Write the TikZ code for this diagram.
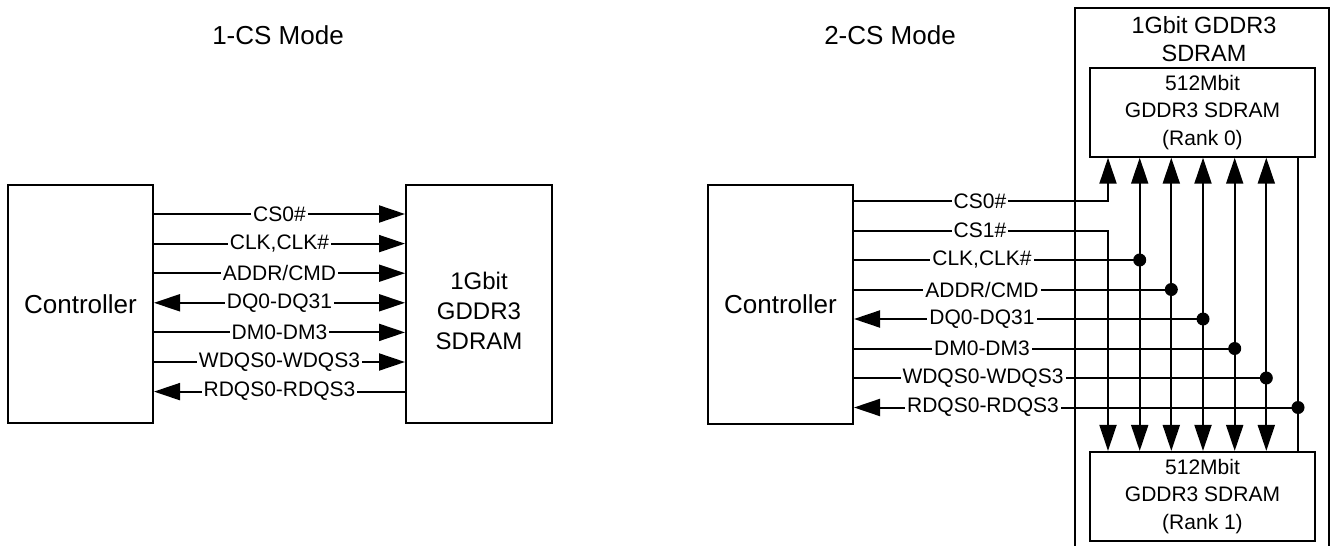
\documentclass[tikz,border=0pt]{standalone}
\usepackage{fontspec}
\setmainfont{Liberation Sans}
\usetikzlibrary{arrows.meta}
\begin{document}
\begin{tikzpicture}[x=0.5pt,y=-0.5pt,
  line width=1pt,
  >={Triangle[length=13pt,width=8.5pt]},
  box/.style={draw, line width=1pt, inner sep=0pt, rectangle},
  lab/.style={fill=white, inner xsep=1pt, inner ysep=0.5pt, font=\fontsize{10.5}{12}\selectfont},
  title/.style={font=\fontsize{13}{15}\selectfont, inner sep=0pt},
  dotn/.style={circle, fill=black, inner sep=0pt, minimum size=6.5pt}
]
\useasboundingbox (0,0) rectangle (1334,546);
\clip (0,0) rectangle (1334,546);

% ---------- 1-CS mode ----------
\node[title] (t1) at (278,35) {1-CS Mode};
\node[box, minimum width=72.5pt, minimum height=119pt, font=\fontsize{13}{15}\selectfont] (ctrlL) at (80.5,304) {Controller};
\node[box, minimum width=73pt, minimum height=119pt] (memL) at (479,304) {};
\node[align=center, font=\fontsize{12}{15}\selectfont, inner sep=0pt] (memLt) at (479,311) {1Gbit\\GDDR3\\SDRAM};

\draw[->]  (ctrlL.east |- 0,214)   -- node[lab] (labL1) {CS0\#}        (memL.west |- 0,214);
\draw[->]  (ctrlL.east |- 0,243.6) -- node[lab] (labL2) {CLK,CLK\#}    (memL.west |- 0,243.6);
\draw[->]  (ctrlL.east |- 0,273.2) -- node[lab] (labL3) {ADDR/CMD}     (memL.west |- 0,273.2);
\draw[<->] (ctrlL.east |- 0,302.8) -- node[lab] (labL4) {DQ0-DQ31}     (memL.west |- 0,302.8);
\draw[->]  (ctrlL.east |- 0,332.4) -- node[lab] (labL5) {DM0-DM3}      (memL.west |- 0,332.4);
\draw[->]  (ctrlL.east |- 0,362)   -- node[lab] (labL6) {WDQS0-WDQS3}  (memL.west |- 0,362);
\draw[<-]  (ctrlL.east |- 0,391.6) -- node[lab] (labL7) {RDQS0-RDQS3}  (memL.west |- 0,391.6);

% ---------- 2-CS mode ----------
\node[title] (t2) at (890,35) {2-CS Mode};
\node[box, minimum width=72.5pt, minimum height=119.5pt, font=\fontsize{13}{15}\selectfont] (ctrlR) at (780.5,304.5) {Controller};
\node[box, minimum width=127pt, minimum height=290pt] (outer) at (1202,298) {};
\node[align=center, font=\fontsize{11.75}{14}\selectfont, inner sep=0pt] (outert) at (1204,39) {1Gbit GDDR3\\SDRAM};
\node[box, minimum width=112.5pt, minimum height=44.5pt, align=center, font=\fontsize{10.5}{13.75}\selectfont] (rank0) at (1202.5,112.2) {512Mbit\\GDDR3 SDRAM\\(Rank 0)};
\node[box, minimum width=112.5pt, minimum height=44.5pt, align=center, font=\fontsize{10.5}{13.75}\selectfont] (rank1) at (1202.5,496.4) {512Mbit\\GDDR3 SDRAM\\(Rank 1)};

\coordinate (b0) at (1108,0);
\coordinate (b1) at (1139.7,0);
\coordinate (b2) at (1171.3,0);
\coordinate (b3) at (1203,0);
\coordinate (b4) at (1234.7,0);
\coordinate (b5) at (1266.3,0);
\coordinate (b6) at (1298,0);

% buses
\draw[<->] (b1 |- rank0.south) -- (b1 |- rank1.north);
\draw[<->] (b2 |- rank0.south) -- (b2 |- rank1.north);
\draw[<->] (b3 |- rank0.south) -- (b3 |- rank1.north);
\draw[<->] (b4 |- rank0.south) -- (b4 |- rank1.north);
\draw[<->] (b5 |- rank0.south) -- (b5 |- rank1.north);
\draw      (b6 |- rank0.south) -- (b6 |- rank1.north);

% signal lines
\draw[->] (ctrlR.east |- 0,201)   -- (b0 |- 0,201)   -- (b0 |- rank0.south);
\draw[->] (ctrlR.east |- 0,230.5) -- (b0 |- 0,230.5) -- (b0 |- rank1.north);
\draw     (ctrlR.east |- 0,260)   -- (b1 |- 0,260);
\draw     (ctrlR.east |- 0,289.5) -- (b2 |- 0,289.5);
\draw[<-] (ctrlR.east |- 0,319)   -- (b3 |- 0,319);
\draw     (ctrlR.east |- 0,348.5) -- (b4 |- 0,348.5);
\draw     (ctrlR.east |- 0,378)   -- (b5 |- 0,378);
\draw[<-] (ctrlR.east |- 0,407.5) -- (b6 |- 0,407.5);

% junction dots
\node[dotn] (d1) at (b1 |- 0,260) {};
\node[dotn] (d2) at (b2 |- 0,289.5) {};
\node[dotn] (d3) at (b3 |- 0,319) {};
\node[dotn] (d4) at (b4 |- 0,348.5) {};
\node[dotn] (d5) at (b5 |- 0,378) {};
\node[dotn] (d6) at (b6 |- 0,407.5) {};

% labels
\node[lab] (labR1) at (980,201)   {CS0\#};
\node[lab] (labR2) at (980,230.5) {CS1\#};
\node[lab] (labR3) at (982,260)   {CLK,CLK\#};
\node[lab] (labR4) at (982,289.5) {ADDR/CMD};
\node[lab] (labR5) at (982,319)   {DQ0-DQ31};
\node[lab] (labR6) at (982,348.5) {DM0-DM3};
\node[lab] (labR7) at (983,378)   {WDQS0-WDQS3};
\node[lab] (labR8) at (983,407.5) {RDQS0-RDQS3};
\end{tikzpicture}
\end{document}
